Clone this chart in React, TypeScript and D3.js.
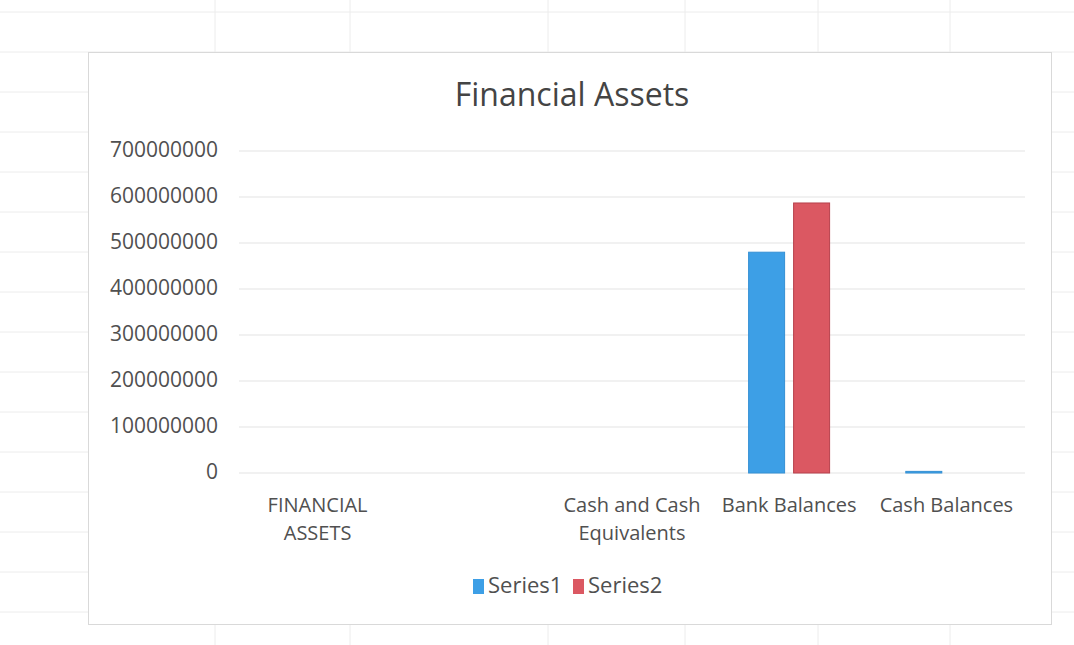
import React from "react";
import * as d3 from "d3";

const categories = ["FINANCIAL ASSETS", "", "Cash and Cash Equivalents", "Bank Balances", "Cash Balances"];
const seriesNames = ["Series1", "Series2"];
const series1 = [0, 0, 0, 480000000, 3500000];
const series2 = [0, 0, 0, 587000000, 0];
const yTicks = [0, 100000000, 200000000, 300000000, 400000000, 500000000, 600000000, 700000000];

const colors = ["#3d9fe6", "#db5862"];
const strokes = ["#3590d4", "#b7414c"];
const font = "'Open Sans', 'Noto Sans', sans-serif";

// greedy word wrap, Excel-ish
const wrap = (s: string, max: number) => {
  const lines: string[] = [];
  let cur = "";
  s.split(" ").filter((w) => w).forEach((w) => {
    const next = cur ? cur + " " + w : w;
    if (next.length > max && cur) {
      lines.push(cur);
      cur = w;
    } else cur = next;
  });
  if (cur) lines.push(cur);
  return lines;
};

export default function App() {
  const W = 1074;
  const H = 645;
  const plot = { left: 239, right: 1025, top: 151, bottom: 473 };

  const x = d3
    .scaleBand<number>()
    .domain(categories.map((_, i) => i))
    .range([plot.left, plot.right]);

  const xInner = d3
    .scaleBand<string>()
    .domain(seriesNames)
    .range([38, 119])
    .paddingInner(0.2);

  const y = d3.scaleLinear().domain([0, 700000000]).range([plot.bottom, plot.top]);

  const values = [series1, series2];

  // spreadsheet cells behind the chart
  const colLines = [215, 350, 548, 685, 818, 950];
  const rowLines = d3.range(12, H, 40);

  return (
    <svg
      width={W}
      height={H}
      style={{ position: "absolute", left: 0, top: 0, background: "#fff" }}
      fontFamily={font}
    >
      <g stroke="#ececec" strokeWidth={1}>
        {colLines.map((c) => (
          <line key={"c" + c} x1={c} x2={c} y1={0} y2={H} />
        ))}
        {rowLines.map((r) => (
          <line key={"r" + r} x1={0} x2={W} y1={r} y2={r} />
        ))}
      </g>

      <rect x={88.5} y={52.5} width={963} height={572} fill="#fff" stroke="#d9d9d9" />

      <text x={572} y={97} textAnchor="middle" dominantBaseline="middle" fontSize={32} fill="#444">
        Financial Assets
      </text>

      {/* gridlines + y labels */}
      {yTicks.map((t) => (
        <g key={t}>
          <line x1={plot.left} x2={plot.right} y1={y(t)} y2={y(t)} stroke="#e3e3e3" strokeWidth={1.2} />
          <text
            x={218}
            y={y(t)}
            textAnchor="end"
            dominantBaseline="middle"
            fontSize={21}
            fill="#505050"
          >
            {t}
          </text>
        </g>
      ))}

      {/* bars */}
      {categories.map((c, i) =>
        values.map((vals, s) => {
          const v = vals[i];
          if (!v) return null;
          const bx = (x(i) as number) + (xInner(seriesNames[s]) as number);
          return (
            <rect
              key={i + "-" + s}
              x={bx}
              y={y(v)}
              width={xInner.bandwidth()}
              height={Math.max(1.5, y(0) - y(v))}
              fill={colors[s]}
              stroke={strokes[s]}
              strokeWidth={1}
            />
          );
        })
      )}

      {/* category labels */}
      {categories.map((c, i) => (
        <text
          key={"l" + i}
          x={(x(i) as number) + x.bandwidth() / 2}
          y={506}
          textAnchor="middle"
          fontSize={20}
          fill="#505050"
        >
          {wrap(c, 13).map((ln, k) => (
            <tspan key={k} x={(x(i) as number) + x.bandwidth() / 2} dy={k === 0 ? 6 : 28}>
              {ln}
            </tspan>
          ))}
        </text>
      ))}

      {/* legend */}
      <g>
        <rect x={473} y={579} width={11} height={15} fill={colors[0]} />
        <text x={488} y={587} dominantBaseline="middle" fontSize={22} fill="#505050">
          {seriesNames[0]}
        </text>
        <rect x={573} y={579} width={11} height={15} fill={colors[1]} />
        <text x={588} y={587} dominantBaseline="middle" fontSize={22} fill="#505050">
          {seriesNames[1]}
        </text>
      </g>
    </svg>
  );
}
